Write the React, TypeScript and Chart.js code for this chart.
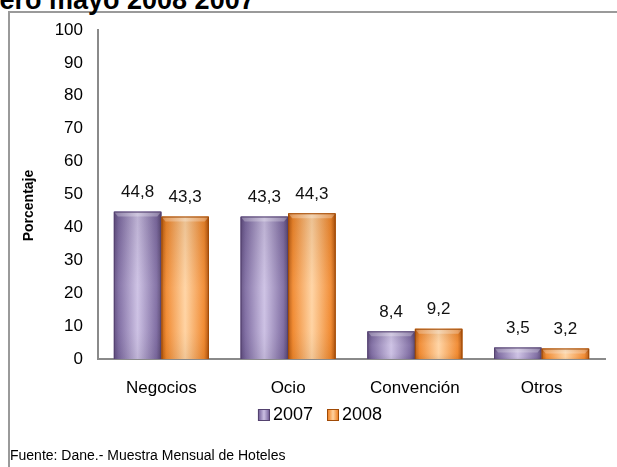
import React, { useEffect, useRef } from "react";
import { Chart, registerables } from "chart.js";

Chart.register(...registerables);

// ---- data ----
const categories = ["Negocios", "Ocio", "Convención", "Otros"];
const seriesNames = ["2007", "2008"];
const values2007 = [44.8, 43.3, 8.4, 3.5];
const values2008 = [43.3, 44.3, 9.2, 3.2];
const yTickValues = [0, 10, 20, 30, 40, 50, 60, 70, 80, 90, 100];
const yAxisTitle = "Porcentaje";
const titleText = "Enero mayo 2008 2007";
const sourceText = "Fuente: Dane.- Muestra Mensual de Hoteles";

// ---- styles ----
const FONT = "'Liberation Sans', Arial, Helvetica, sans-serif";
const purpleStops: [number, string][] = [
  [0, "#5e4b7e"],
  [0.1, "#7c69a0"],
  [0.5, "#cbbfe3"],
  [0.9, "#7c69a0"],
  [1, "#574570"],
];
const orangeStops: [number, string][] = [
  [0, "#b4560c"],
  [0.1, "#f0862a"],
  [0.5, "#ffd2a0"],
  [0.9, "#f0862a"],
  [1, "#ad500a"],
];
const edgeColors = ["#54426f", "#a04a06"];
const flatColors = ["#9a88bd", "#f8a85a"];

const fmt = (v: number) => v.toFixed(1).replace(".", ",");

function hGrad(ctx: CanvasRenderingContext2D, l: number, r: number, stops: [number, string][]) {
  const g = ctx.createLinearGradient(l, 0, r, 0);
  stops.forEach(([o, c]) => g.addColorStop(o, c));
  return g;
}

const stylePlugin = {
  id: "excelStyle",
  afterDatasetsDraw(chart: any) {
    const ctx = chart.ctx;
    ctx.save();
    chart.data.datasets.forEach((ds: any, di: number) => {
      const meta = chart.getDatasetMeta(di);
      const stops = di === 0 ? purpleStops : orangeStops;
      meta.data.forEach((el: any, i: number) => {
        const { x, y, base, width } = el.getProps(["x", "y", "base", "width"], true);
        const l = x - width / 2;
        const r = x + width / 2;
        const h = base - y;
        ctx.fillStyle = hGrad(ctx, l, r, stops);
        ctx.fillRect(l, y, width, h);
        const vg = ctx.createLinearGradient(0, y, 0, base);
        vg.addColorStop(0, "rgba(0,0,0,0.08)");
        vg.addColorStop(0.5, "rgba(255,255,255,0.08)");
        vg.addColorStop(0.8, "rgba(255,255,255,0.04)");
        vg.addColorStop(1, "rgba(0,0,0,0.06)");
        ctx.fillStyle = vg;
        ctx.fillRect(l, y, width, h);
        const bv = Math.min(5, h / 2);
        ctx.beginPath();
        ctx.moveTo(l, y);
        ctx.lineTo(r, y);
        ctx.lineTo(r - 4, y + bv);
        ctx.lineTo(l + 4, y + bv);
        ctx.closePath();
        ctx.fillStyle = "rgba(255,255,255,0.28)";
        ctx.fill();
        ctx.strokeStyle = edgeColors[di];
        ctx.lineWidth = 1;
        ctx.beginPath();
        ctx.moveTo(l + 0.5, base);
        ctx.lineTo(l + 0.5, y + 0.5);
        ctx.lineTo(r - 0.5, y + 0.5);
        ctx.lineTo(r - 0.5, base);
        ctx.stroke();
        ctx.fillStyle = "#111";
        ctx.font = `17px ${FONT}`;
        ctx.textAlign = "center";
        ctx.textBaseline = "middle";
        ctx.fillText(fmt(ds.data[i]), x, y - 19);
      });
    });
    ctx.restore();
  },
  afterDraw(chart: any) {
    const ctx = chart.ctx;
    ctx.save();
    const ca = chart.chartArea;
    ctx.translate(29, (ca.top + ca.bottom) / 2 + 11);
    ctx.rotate(-Math.PI / 2);
    ctx.font = `bold 14px ${FONT}`;
    ctx.fillStyle = "#000";
    ctx.textAlign = "center";
    ctx.textBaseline = "middle";
    ctx.fillText(yAxisTitle, 0, 0);
    ctx.restore();

    ctx.save();
    const legendCenterX = 320;
    const legendY = 415;
    const box = 12;
    const gapBT = 3;
    const itemGap = 14;
    ctx.font = `18px ${FONT}`;
    const widths = seriesNames.map((s) => ctx.measureText(s).width);
    const total =
      widths.reduce((a, w) => a + box + gapBT + w, 0) + itemGap * (seriesNames.length - 1);
    let lx = legendCenterX - total / 2;
    seriesNames.forEach((name, i) => {
      const stops = i === 0 ? purpleStops : orangeStops;
      ctx.fillStyle = hGrad(ctx, lx, lx + box, stops);
      ctx.fillRect(lx, legendY - box / 2, box, box);
      ctx.strokeStyle = edgeColors[i];
      ctx.lineWidth = 1;
      ctx.strokeRect(lx + 0.5, legendY - box / 2 + 0.5, box - 1, box - 1);
      ctx.fillStyle = "#000";
      ctx.textAlign = "left";
      ctx.textBaseline = "middle";
      ctx.fillText(name, lx + box + gapBT, legendY);
      lx += box + gapBT + widths[i] + itemGap;
    });
    ctx.restore();
  },
};

export default function App() {
  const canvasRef = useRef<HTMLCanvasElement | null>(null);

  useEffect(() => {
    const canvas = canvasRef.current;
    if (!canvas) return;
    const chart = new Chart(canvas, {
      type: "bar",
      data: {
        labels: categories,
        datasets: [
          {
            label: seriesNames[0],
            data: values2007,
            backgroundColor: flatColors[0],
            categoryPercentage: 0.75,
            barPercentage: 1.0,
            borderWidth: 0,
          },
          {
            label: seriesNames[1],
            data: values2008,
            backgroundColor: flatColors[1],
            categoryPercentage: 0.75,
            barPercentage: 1.0,
            borderWidth: 0,
          },
        ],
      },
      options: {
        responsive: false,
        animation: false,
        devicePixelRatio: 1,
        layout: { padding: { left: 8, right: 12, top: 30, bottom: 0 } },
        plugins: {
          legend: { display: false },
          tooltip: { enabled: false },
          title: { display: false },
        },
        scales: {
          x: {
            grid: { display: false, drawTicks: false },
            border: { display: true, color: "#8a8a8a", width: 2 },
            ticks: {
              color: "#000",
              font: { family: FONT, size: 17 },
              padding: 19,
              maxRotation: 0,
            },
            afterFit: (s: any) => {
              s.height = 108;
            },
          },
          y: {
            min: 0,
            max: 100,
            grid: { display: false, drawTicks: false },
            border: { display: true, color: "#8a8a8a", width: 2 },
            ticks: {
              color: "#000",
              font: { family: FONT, size: 17 },
              padding: 15,
            },
            afterBuildTicks: (s: any) => {
              s.ticks = yTickValues.map((v) => ({ value: v }));
            },
            afterFit: (s: any) => {
              s.width = 90;
            },
          },
        },
      },
      plugins: [stylePlugin],
    });
    return () => chart.destroy();
  }, []);

  return (
    <div
      style={{
        position: "fixed",
        left: 0,
        top: 0,
        width: 617,
        height: 467,
        overflow: "hidden",
        background: "#fff",
      }}
    >
      <div
        style={{
          position: "absolute",
          left: 8,
          top: 11,
          width: 700,
          height: 600,
          borderLeft: "2px solid #9a9a9a",
          borderTop: "2px solid #9a9a9a",
          boxSizing: "border-box",
        }}
      />
      <div
        style={{
          position: "absolute",
          left: -35,
          top: -13,
          whiteSpace: "nowrap",
          font: `bold 27px/27px ${FONT}`,
          color: "#000",
        }}
      >
        {titleText}
      </div>
      <canvas
        ref={canvasRef}
        width={617}
        height={467}
        style={{ position: "absolute", left: 0, top: 0, width: 617, height: 467 }}
      />
      <div
        style={{
          position: "absolute",
          left: 10,
          top: 448,
          whiteSpace: "nowrap",
          font: `14px/14px ${FONT}`,
          color: "#000",
        }}
      >
        {sourceText}
      </div>
    </div>
  );
}
